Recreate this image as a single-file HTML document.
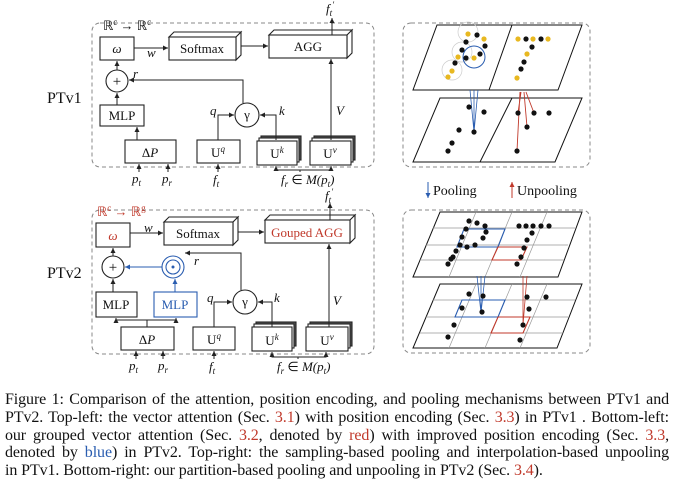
<!DOCTYPE html>
<html><head><meta charset="utf-8"><style>
html,body{margin:0;padding:0;background:#fff;width:673px;height:482px;overflow:hidden}
svg{position:absolute;left:0;top:0}
.cap{position:absolute;left:5px;top:391px;width:664px;font:16px/17.8px "Liberation Serif",serif;color:#111;text-align:justify;text-align-last:left;letter-spacing:-0.1px}
.r{color:#c0392b}.b{color:#2a5db0}
text{font-family:"Liberation Serif",serif;fill:#111}
</style></head><body>
<svg width="673" height="390" viewBox="0 0 673 390">
<defs>
<marker id="a" markerWidth="6" markerHeight="6" refX="5" refY="3" orient="auto"><path d="M0,0.5 L5,3 L0,5.5z" fill="#222"/></marker>
<marker id="ab" markerWidth="6" markerHeight="6" refX="5" refY="3" orient="auto"><path d="M0,0.5 L5,3 L0,5.5z" fill="#2a5db0"/></marker>
<marker id="ar" markerWidth="6" markerHeight="6" refX="5" refY="3" orient="auto"><path d="M0,0.5 L5,3 L0,5.5z" fill="#c0392b"/></marker>
</defs>
<g fill="none" stroke="#888" stroke-dasharray="4,3" stroke-width="1">
<rect x="92" y="23" width="282" height="144" rx="8"/>
<rect x="92" y="210" width="282" height="144" rx="8"/>
<rect x="403" y="23" width="187" height="144" rx="8"/>
<rect x="403" y="210" width="187" height="143" rx="8"/>
</g>
<g stroke="#222" stroke-width="1.1" fill="#fff">
<rect x="100" y="37" width="34" height="23"/>
<path d="M169,37 l5,-5 h67 l-5,5z M236,37 l5,-5 v23 l-5,5z"/><rect x="169" y="37" width="67" height="23"/>
<path d="M269,35 l5,-5 h78 l-5,5z M347,35 l5,-5 v23 l-5,5z"/><rect x="269" y="35" width="78" height="23"/>
<circle cx="117" cy="81" r="11"/>
<rect x="100" y="105" width="44" height="21"/>
<rect x="125" y="140" width="51" height="23"/>
<rect x="197" y="140" width="43" height="23"/>
<circle cx="247" cy="115" r="12"/>
<rect x="261" y="136" width="40" height="24" fill="#555"/><rect x="259" y="138" width="40" height="24"/><rect x="257" y="141" width="40" height="24"/>
<rect x="314" y="136" width="41" height="24" fill="#555"/><rect x="312" y="138" width="41" height="24"/><rect x="310" y="141" width="41" height="24"/>
<rect x="96" y="223" width="34" height="24" stroke="#222"/>
<path d="M164,222 l5,-5 h69 l-5,5z M233,222 l5,-5 v23 l-5,5z"/><rect x="164" y="222" width="69" height="23"/>
<path d="M265,220 l5,-5 h85 l-5,5z M350,220 l5,-5 v23 l-5,5z"/><rect x="265" y="220" width="85" height="23"/>
<circle cx="113" cy="267" r="11"/>
<circle cx="173" cy="267" r="11" stroke="#2a5db0"/><circle cx="173" cy="267" r="7" stroke="#2a5db0"/>
<rect x="96" y="292" width="41" height="25"/>
<rect x="154" y="292" width="43" height="25" stroke="#2a5db0"/>
<rect x="121" y="327" width="53" height="23"/>
<rect x="193" y="327" width="42" height="23"/>
<circle cx="245" cy="302" r="12"/>
<rect x="256" y="322" width="40" height="24" fill="#555"/><rect x="254" y="324" width="40" height="24"/><rect x="252" y="327" width="40" height="24"/>
<rect x="310" y="322" width="42" height="24" fill="#555"/><rect x="308" y="324" width="42" height="24"/><rect x="306" y="327" width="42" height="24"/>
</g>
<circle cx="173" cy="267" r="1.5" fill="#2a5db0"/>
<g stroke="#222" stroke-width="1" fill="none" marker-end="url(#a)">
<path d="M134,48 H168"/><path d="M241,46 H268"/><path d="M332,35 V18"/><path d="M331,140 V59"/>
<path d="M117,70 V61"/><path d="M117,105 V93"/><path d="M243,103 V80 H129"/><path d="M137,140 V127"/>
<path d="M139,172 V164"/><path d="M168,172 V164"/><path d="M218,172 V164"/>
<path d="M218,140 V115 H234"/><path d="M276,140 V115 H260"/>
<path d="M300,172 V170 H276 V166"/><path d="M300,170 H331 V166"/>
<path d="M130,233 H163"/><path d="M238,232 H264"/><path d="M330,220 V203"/><path d="M329,327 V244"/>
<path d="M113,256 V248"/><path d="M113,292 V279"/><path d="M241,290 V253 H185"/>
<path d="M147,327 V320 H116 V318"/><path d="M147,320 H176 V318"/>
<path d="M136,359 V351"/><path d="M163,359 V351"/><path d="M214,359 V351"/>
<path d="M214,327 V302 H232"/><path d="M272,327 V302 H258"/>
<path d="M298,359 V357 H272 V352"/><path d="M298,357 H326 V352"/>
</g>
<g stroke="#2a5db0" fill="none"><path d="M162,267 H125" marker-end="url(#ab)"/><path d="M175,292 V279" marker-end="url(#ab)"/></g>
<g font-size="13">
<text x="103" y="30">ℝ<tspan font-size="9" dy="-5">c</tspan><tspan dy="5"> → ℝ</tspan><tspan font-size="9" dy="-5">c</tspan></text>
<text x="117" y="53" text-anchor="middle" font-style="italic">ω</text>
<text x="202" y="53" text-anchor="middle">Softmax</text>
<text x="308" y="51" text-anchor="middle">AGG</text>
<text x="147" y="57" font-style="italic">w</text>
<text x="117" y="86" text-anchor="middle" font-size="15">+</text>
<text x="133" y="78" font-style="italic">r</text>
<text x="122" y="120" text-anchor="middle">MLP</text>
<text x="150" y="157" text-anchor="middle">Δ<tspan font-style="italic">P</tspan></text>
<text x="218" y="157" text-anchor="middle">U<tspan font-size="9" dy="-5" font-style="italic">q</tspan></text>
<text x="277" y="158" text-anchor="middle">U<tspan font-size="9" dy="-5" font-style="italic">k</tspan></text>
<text x="330" y="158" text-anchor="middle">U<tspan font-size="9" dy="-5" font-style="italic">v</tspan></text>
<text x="247" y="119" text-anchor="middle">γ</text>
<text x="210" y="115" font-style="italic">q</text><text x="279" y="115" font-style="italic">k</text><text x="336" y="115" font-style="italic">V</text>
<text x="47" y="103" font-size="16">PTv1</text>
<text x="326" y="13" font-style="italic">f<tspan font-size="9" dy="3">t</tspan><tspan dy="-8" font-size="9">′</tspan></text>
<text x="132" y="183" font-style="italic">p<tspan font-size="9" dy="3">t</tspan></text>
<text x="162" y="183" font-style="italic">p<tspan font-size="9" dy="3">r</tspan></text>
<text x="213" y="184" font-style="italic">f<tspan font-size="9" dy="3">t</tspan></text>
<text x="281" y="184" font-style="italic">f<tspan font-size="9" dy="3">r</tspan><tspan dy="-3" font-style="normal"> ∈ </tspan>M(p<tspan font-size="9" dy="3">t</tspan><tspan dy="-3">)</tspan></text>
<text x="97" y="216" style="fill:#c0392b">ℝ<tspan font-size="9" dy="-5">c</tspan><tspan dy="5"> → ℝ</tspan><tspan font-size="9" dy="-5">g</tspan></text>
<text x="113" y="240" text-anchor="middle" font-style="italic" style="fill:#c0392b">ω</text>
<text x="198" y="238" text-anchor="middle">Softmax</text>
<text x="307" y="237" text-anchor="middle" style="fill:#c0392b">Gouped AGG</text>
<text x="144" y="232" font-style="italic">w</text>
<text x="113" y="272" text-anchor="middle" font-size="15">+</text>
<text x="194" y="265" font-style="italic">r</text>
<text x="116" y="309" text-anchor="middle">MLP</text>
<text x="175" y="309" text-anchor="middle" style="fill:#2a5db0">MLP</text>
<text x="147" y="344" text-anchor="middle">Δ<tspan font-style="italic">P</tspan></text>
<text x="214" y="344" text-anchor="middle">U<tspan font-size="9" dy="-5" font-style="italic">q</tspan></text>
<text x="272" y="345" text-anchor="middle">U<tspan font-size="9" dy="-5" font-style="italic">k</tspan></text>
<text x="327" y="345" text-anchor="middle">U<tspan font-size="9" dy="-5" font-style="italic">v</tspan></text>
<text x="245" y="306" text-anchor="middle">γ</text>
<text x="207" y="302" font-style="italic">q</text><text x="274" y="302" font-style="italic">k</text><text x="333" y="305" font-style="italic">V</text>
<text x="47" y="278" font-size="16">PTv2</text>
<text x="325" y="200" font-style="italic">f<tspan font-size="9" dy="3">t</tspan><tspan dy="-8" font-size="9">′</tspan></text>
<text x="129" y="370" font-style="italic">p<tspan font-size="9" dy="3">t</tspan></text>
<text x="158" y="370" font-style="italic">p<tspan font-size="9" dy="3">r</tspan></text>
<text x="209" y="371" font-style="italic">f<tspan font-size="9" dy="3">t</tspan></text>
<text x="277" y="371" font-style="italic">f<tspan font-size="9" dy="3">r</tspan><tspan dy="-3" font-style="normal"> ∈ </tspan>M(p<tspan font-size="9" dy="3">t</tspan><tspan dy="-3">)</tspan></text>
</g>
<g fill="#fff" stroke="#111" stroke-width="1">
<path d="M437,25 H582 L558,90 H413z"/><path d="M512,25 L489,90" fill="none"/>
<path d="M440,98 H582 L555,162 H413z"/><path d="M512,98 L480,162" fill="none"/>
<path d="M440,212 H582 L558,277 H413z"/>
<path d="M440,284 H582 L557,348 H413z"/>
</g>
<g stroke="#999" stroke-width="0.7" fill="none">
<path d="M433,228 H575 M426,245 H568 M420,260 H564"/>
<path d="M476,212 L449,277 M547,212 L520,277 M512,212 L485,277"/>
<path d="M433,300 H575 M426,317 H568 M420,333 H563"/>
<path d="M476,284 L449,348 M547,284 L520,348 M512,284 L485,348"/>
<circle cx="468" cy="32" r="10" stroke="#ccc"/><circle cx="462" cy="52" r="10" stroke="#ccc"/><circle cx="452" cy="70" r="10" stroke="#ccc"/>
</g>
<circle cx="474" cy="57" r="11" fill="none" stroke="#2a5db0"/>
<g stroke="#2a5db0" fill="none" stroke-width="1.1">
<path d="M464,229 H505 L498,247 H457z"/><path d="M462,300 H505 L498,317 H455z"/>
<path d="M474,132 L470,90 M474,132 L474,90 M474,132 L478,90" stroke-width="0.8"/>
<path d="M481,313 L477,276 M481,313 L481,276 M481,313 L485,276" stroke-width="0.8"/>
</g>
<g stroke="#c0392b" fill="none" stroke-width="1.1">
<path d="M498,247 H527 L521,260 H492z"/><path d="M498,317 H530 L523,333 H491z"/>
<path d="M517,151 L520,92 M518,113 L521,92 M527,127 L524,92 M534,113 L526,92" stroke-width="0.9"/>
<path d="M523,325 L523,276 M523,325 L527,276" stroke-width="0.8"/>
</g>
<g fill="#111">
<circle cx="477" cy="35" r="2.6"/><circle cx="466" cy="42" r="2.6"/><circle cx="485" cy="46" r="2.6"/><circle cx="462" cy="50" r="2.6"/><circle cx="466" cy="58" r="2.6"/><circle cx="480" cy="54" r="2.6"/><circle cx="455" cy="63" r="2.6"/>
<circle cx="526" cy="39" r="2.6"/><circle cx="541" cy="39" r="2.6"/><circle cx="532" cy="47" r="2.6"/><circle cx="524" cy="62" r="2.6"/><circle cx="521" cy="69" r="2.6"/>
<circle cx="469" cy="107" r="2.6"/><circle cx="484" cy="112" r="2.6"/><circle cx="459" cy="130" r="2.6"/><circle cx="474" cy="132" r="2.6"/><circle cx="452" cy="143" r="2.6"/><circle cx="448" cy="151" r="2.6"/>
<circle cx="518" cy="113" r="2.6"/><circle cx="534" cy="113" r="2.6"/><circle cx="549" cy="113" r="2.6"/><circle cx="527" cy="127" r="2.6"/><circle cx="517" cy="151" r="2.6"/>
<circle cx="469" cy="221" r="2.6"/><circle cx="477" cy="223" r="2.6"/><circle cx="466" cy="229" r="2.6"/><circle cx="485" cy="226" r="2.6"/><circle cx="486" cy="232" r="2.6"/><circle cx="462" cy="237" r="2.6"/><circle cx="483" cy="238" r="2.6"/><circle cx="460" cy="245" r="2.6"/><circle cx="467" cy="247" r="2.6"/><circle cx="475" cy="245" r="2.6"/><circle cx="456" cy="251" r="2.6"/><circle cx="453" cy="257" r="2.6"/><circle cx="451" cy="259" r="2.6"/><circle cx="448" cy="264" r="2.6"/>
<circle cx="519" cy="226" r="2.6"/><circle cx="526" cy="226" r="2.6"/><circle cx="533" cy="226" r="2.6"/><circle cx="541" cy="226" r="2.6"/><circle cx="549" cy="226" r="2.6"/><circle cx="532" cy="233" r="2.6"/><circle cx="527" cy="240" r="2.6"/><circle cx="524" cy="248" r="2.6"/><circle cx="521" cy="257" r="2.6"/><circle cx="517" cy="264" r="2.6"/>
<circle cx="469" cy="294" r="2.6"/><circle cx="483" cy="296" r="2.6"/><circle cx="462" cy="308" r="2.6"/><circle cx="482" cy="312" r="2.6"/><circle cx="454" cy="325" r="2.6"/><circle cx="448" cy="337" r="2.6"/>
<circle cx="527" cy="297" r="2.6"/><circle cx="546" cy="297" r="2.6"/><circle cx="529" cy="309" r="2.6"/><circle cx="523" cy="325" r="2.6"/><circle cx="520" cy="340" r="2.6"/>
</g>
<g fill="#e8b820">
<circle cx="468" cy="34" r="2.6"/><circle cx="484" cy="39" r="2.6"/><circle cx="458" cy="57" r="2.6"/><circle cx="474" cy="58" r="2.6"/><circle cx="452" cy="71" r="2.6"/><circle cx="448" cy="77" r="2.6"/>
<circle cx="518" cy="39" r="2.6"/><circle cx="533" cy="39" r="2.6"/><circle cx="548" cy="39" r="2.6"/><circle cx="527" cy="54" r="2.6"/><circle cx="517" cy="78" r="2.6"/>
</g>
<path d="M428,182 V198" stroke="#2a5db0" marker-end="url(#ab)"/>
<path d="M512,198 V182" stroke="#c0392b" marker-end="url(#ar)"/>
<text x="433" y="195" font-size="14">Pooling</text>
<text x="517" y="195" font-size="14">Unpooling</text>
</svg>
<div class="cap">Figure 1: Comparison of the attention, position encoding, and pooling mechanisms between PTv1 and PTv2. Top-left: the vector attention (Sec. <span class="r">3.1</span>) with position encoding (Sec. <span class="r">3.3</span>) in PTv1 . Bottom-left: our grouped vector attention (Sec. <span class="r">3.2</span>, denoted by <span class="r">red</span>) with improved position encoding (Sec. <span class="r">3.3</span>, denoted by <span class="b">blue</span>) in PTv2. Top-right: the sampling-based pooling and interpolation-based unpooling in&nbsp;PTv1. Bottom-right: our partition-based pooling and unpooling in PTv2 (Sec. <span class="r">3.4</span>).</div>
</body></html>
